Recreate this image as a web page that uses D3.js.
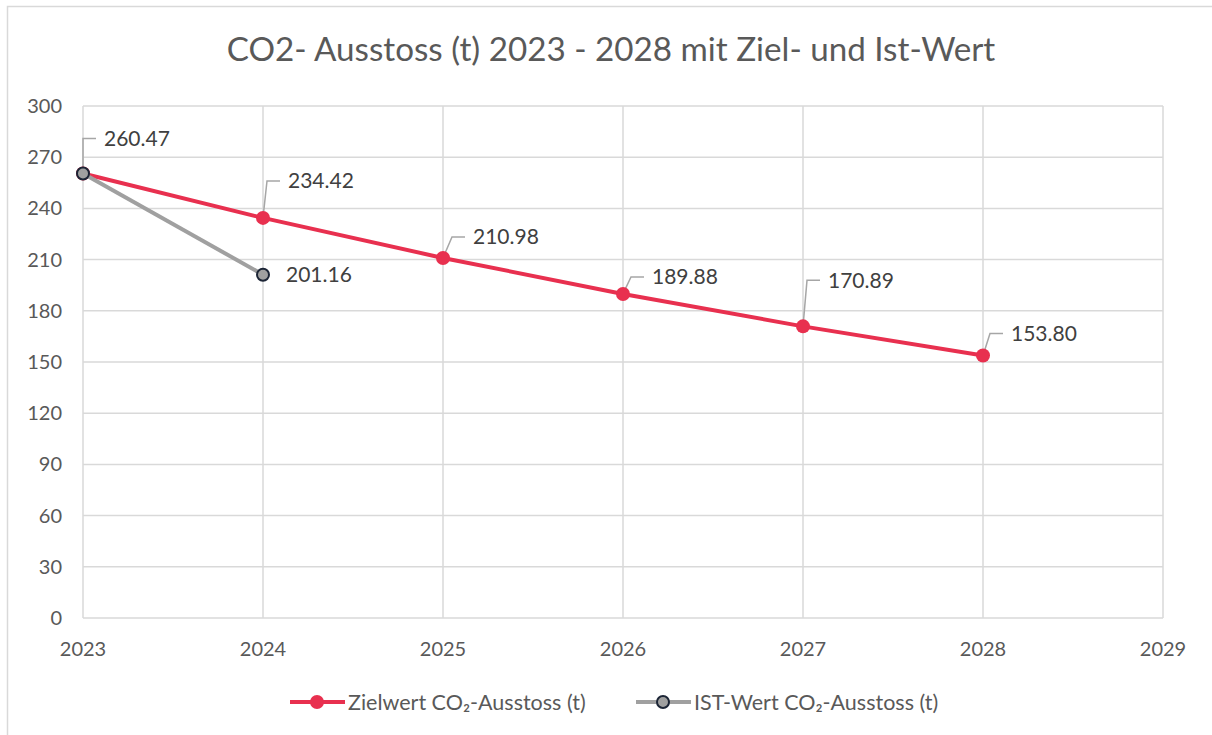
<!DOCTYPE html>
<html>
<head>
<meta charset="utf-8">
<script src="https://cdn.jsdelivr.net/npm/d3@7"></script>
<style>
  body { margin: 0; background: #fff; }
  svg { display: block; font-family: Lato, "Open Sans", sans-serif; }
  .grid line { stroke: #d9d9d9; stroke-width: 1.5; }
  .tick-label { fill: #595959; font-size: 20px; }
  .legend-label { fill: #595959; font-size: 21.5px; }
  .data-label { fill: #404040; font-size: 21px; }
</style>
</head>
<body>
<script>
// chart data
var years = [2023, 2024, 2025, 2026, 2027, 2028];
var zielwert = [260.47, 234.42, 210.98, 189.88, 170.89, 153.80];
var istYears = [2023, 2024];
var istwert = [260.47, 201.16];
var yTicks = [0, 30, 60, 90, 120, 150, 180, 210, 240, 270, 300];
var xTicks = [2023, 2024, 2025, 2026, 2027, 2028, 2029];
var seriesNames = ["Zielwert CO\u2082-Ausstoss (t)", "IST-Wert CO\u2082-Ausstoss (t)"];
var title = "CO2- Ausstoss (t) 2023 - 2028 mit Ziel- und Ist-Wert";

// label placement (layout, manually nudged like in the original)
var zielLabelOffset = [[21, -35], [25, -37], [30, -21], [29, -17], [25, -46], [28, -22]];

var W = 1212, H = 735;
var margin = {top: 106, right: 49, bottom: 117, left: 83};
var width = W - margin.left - margin.right,
    height = H - margin.top - margin.bottom;

var red = "#e8304f", gray = "#a0a0a0";

var svg = d3.select("body").append("svg")
  .attr("width", W)
  .attr("height", H);

// outer chart border (runs off the right and bottom)
svg.append("rect")
  .attr("x", 7.5).attr("y", 6.5)
  .attr("width", W + 20).attr("height", H + 20)
  .attr("fill", "none")
  .attr("stroke", "#d9d9d9")
  .attr("stroke-width", 1.5);

svg.append("text")
  .attr("x", W / 2 + 5)
  .attr("y", 61)
  .attr("text-anchor", "middle")
  .attr("fill", "#595959")
  .style("font-size", "33.2px")
  .text(title);

var g = svg.append("g")
  .attr("transform", "translate(" + margin.left + "," + margin.top + ")");

var x = d3.scaleLinear().domain([2023, 2029]).range([0, width]);
var y = d3.scaleLinear().domain([0, 300]).range([height, 0]);

var grid = g.append("g").attr("class", "grid");
grid.selectAll(".hl").data(yTicks).enter().append("line")
  .attr("x1", 0).attr("x2", width)
  .attr("y1", function(d){ return y(d); })
  .attr("y2", function(d){ return y(d); });
grid.selectAll(".vl").data(xTicks).enter().append("line")
  .attr("y1", 0).attr("y2", height)
  .attr("x1", function(d){ return x(d); })
  .attr("x2", function(d){ return x(d); });

g.selectAll(".ylab").data(yTicks).enter().append("text")
  .attr("class", "tick-label")
  .attr("x", -21)
  .attr("y", function(d){ return y(d); })
  .attr("dy", "0.35em")
  .attr("text-anchor", "end")
  .text(function(d){ return d; });

g.selectAll(".xlab").data(xTicks).enter().append("text")
  .attr("class", "tick-label")
  .attr("x", function(d){ return x(d); })
  .attr("y", height + 31)
  .attr("dy", "0.35em")
  .attr("text-anchor", "middle")
  .text(function(d){ return d; });

var ziel = years.map(function(yr, i){ return {year: yr, value: zielwert[i], off: zielLabelOffset[i]}; });
var ist = istYears.map(function(yr, i){ return {year: yr, value: istwert[i]}; });

var line = d3.line()
  .x(function(d){ return x(d.year); })
  .y(function(d){ return y(d.value); });

// leader lines for the target series
g.append("g").selectAll("path").data(ziel).enter().append("path")
  .attr("fill", "none")
  .attr("stroke", "#a6a6a6")
  .attr("stroke-width", 1.5)
  .attr("d", function(d){
    var px = x(d.year), py = y(d.value);
    var tx = px + d.off[0], ty = py + d.off[1];
    return "M" + px + "," + py + "L" + (tx - 21) + "," + ty + "L" + (tx - 8) + "," + ty;
  });

g.append("path").datum(ziel)
  .attr("fill", "none")
  .attr("stroke", red)
  .attr("stroke-width", 4)
  .attr("d", line);

g.append("g").selectAll("circle").data(ziel).enter().append("circle")
  .attr("cx", function(d){ return x(d.year); })
  .attr("cy", function(d){ return y(d.value); })
  .attr("r", 7)
  .attr("fill", red);

g.append("path").datum(ist)
  .attr("fill", "none")
  .attr("stroke", gray)
  .attr("stroke-width", 4)
  .attr("d", line);

g.append("g").selectAll("circle").data(ist).enter().append("circle")
  .attr("cx", function(d){ return x(d.year); })
  .attr("cy", function(d){ return y(d.value); })
  .attr("r", 6)
  .attr("fill", gray)
  .attr("stroke", "#1c2536")
  .attr("stroke-width", 2);

g.append("g").selectAll("text").data(ziel).enter().append("text")
  .attr("class", "data-label")
  .attr("x", function(d){ return x(d.year) + d.off[0]; })
  .attr("y", function(d){ return y(d.value) + d.off[1]; })
  .attr("dy", "0.35em")
  .text(function(d){ return d.value.toFixed(2); });

// the IST label for 2023 overlaps the target label, so only the last one is shown
g.append("g").selectAll("text").data(ist.slice(1)).enter().append("text")
  .attr("class", "data-label")
  .attr("x", function(d){ return x(d.year) + 23; })
  .attr("y", function(d){ return y(d.value); })
  .attr("dy", "0.35em")
  .text(function(d){ return d.value.toFixed(2); });

// legend
var legendY = 702;
var legendItems = [
  {name: seriesNames[0], x: 290, color: red, stroke: "none", r: 7},
  {name: seriesNames[1], x: 636, color: gray, stroke: "#1c2536", r: 6}
];
var leg = svg.append("g").selectAll("g").data(legendItems).enter().append("g")
  .attr("transform", function(d){ return "translate(" + d.x + "," + legendY + ")"; });
leg.append("line")
  .attr("x1", 0).attr("x2", 55)
  .attr("stroke", function(d){ return d.color; })
  .attr("stroke-width", 4);
leg.append("circle")
  .attr("cx", 27).attr("r", function(d){ return d.r; })
  .attr("fill", function(d){ return d.color; })
  .attr("stroke", function(d){ return d.stroke; })
  .attr("stroke-width", 2);
leg.append("text")
  .attr("class", "legend-label")
  .attr("x", 58)
  .attr("dy", "0.35em")
  .text(function(d){ return d.name; });
</script>
</body>
</html>
